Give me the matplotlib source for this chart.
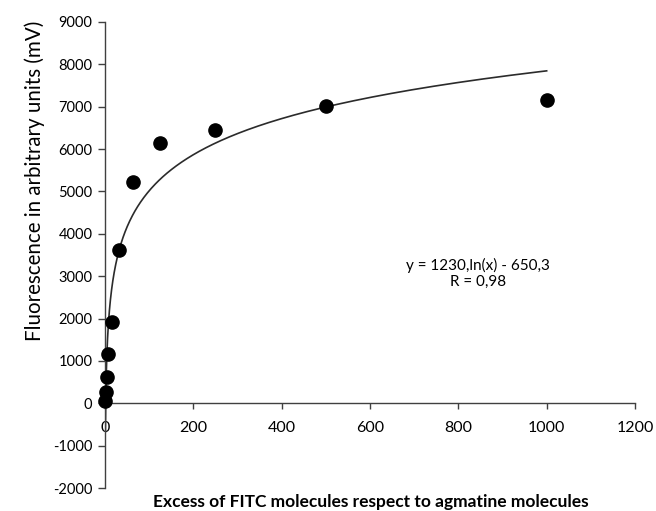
import numpy as np
import matplotlib.pyplot as plt

plt.rcParams['font.family'] = ['Lato', 'DejaVu Sans']
plt.rcParams['axes.unicode_minus'] = False

# Data (excess ratio vs fluorescence, mV)
excess = [0.98, 1.95, 3.9, 7.8, 15.6, 31.25, 62.5, 125, 250, 500, 1000]
fluorescence = [45, 270, 620, 1165, 1920, 3610, 5230, 6150, 6440, 7010, 7170]

# Logarithmic trend line as printed on the chart
fit_a = 1230
fit_b = -650.3
fit_label = "y = 1230,ln(x) - 650,3\nR = 0,98"

x_ticks = [0, 200, 400, 600, 800, 1000, 1200]
y_ticks = list(range(-2000, 9001, 1000))

fig = plt.figure(figsize=(6.56, 5.11), dpi=100)
ax = fig.add_axes([0.160, 0.045, 0.808, 0.912])

# Trend line
x_fit = np.geomspace(min(excess), max(excess), 400)
ax.plot(x_fit, fit_a * np.log(x_fit) + fit_b, color='#2b2b2b', linewidth=1.2, zorder=2)

# Measured points
ax.plot(excess, fluorescence, linestyle='none', marker='o', markersize=9.5,
        color='black', zorder=3, clip_on=False)

ax.set_xlim(0, 1200)
ax.set_ylim(-2000, 9000)
ax.set_xticks(x_ticks)
ax.set_yticks(y_ticks)
ax.tick_params(axis='x', direction='out', length=4, width=1, color='#404040',
               labelsize=11.5, pad=9)
ax.tick_params(axis='y', direction='out', length=5, width=1, color='#404040',
               labelsize=10.5, pad=4)

# Axis lines: x axis crosses at y = 0
ax.spines['top'].set_visible(False)
ax.spines['right'].set_visible(False)
ax.spines['bottom'].set_position(('data', 0))
for side in ['left', 'bottom']:
    ax.spines[side].set_color('#404040')
    ax.spines[side].set_linewidth(1)

ax.set_ylabel("Fluorescence in arbitrary units (mV)", fontsize=14.8)
ax.yaxis.set_label_coords(-0.113, 0.66)
fig.text(0.565, 0.017, "Excess of FITC molecules respect to agmatine molecules",
         ha='center', va='center', fontsize=12.5, fontweight='bold')

ax.text(845, 3070, fit_label, ha='center', va='center', fontsize=11,
        multialignment='center', linespacing=1.2)

fig.savefig('out.png', dpi=100)
